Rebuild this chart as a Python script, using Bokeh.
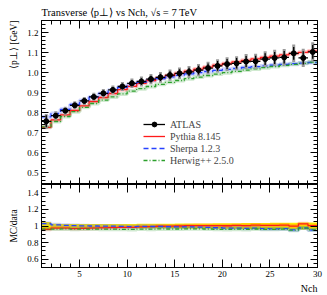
import math
from bokeh.plotting import figure
from bokeh.models import (Range1d, LinearAxis, FixedTicker, Legend,
                          LegendItem, CustomJSTickFormatter, Title)
from bokeh.layouts import column
from bokeh.embed import file_html
from bokeh.resources import INLINE

# ---------------- data ----------------
nch_edges = [1, 2, 3, 4, 5, 6, 7, 8, 9, 10, 11, 12, 13, 14, 15, 16, 17, 18, 19,
             20, 21, 22, 23, 24, 25, 26, 27, 28, 29, 30]
atlas_mean = [0.758, 0.786, 0.811, 0.838, 0.860, 0.880, 0.898, 0.915, 0.932,
              0.948, 0.957, 0.969, 0.978, 0.989, 0.998, 1.005, 1.014, 1.024,
              1.035, 1.044, 1.048, 1.057, 1.058, 1.069, 1.075, 1.078, 1.098,
              1.075, 1.105]
atlas_err_stat = [0.030, 0.013, 0.012, 0.012, 0.012, 0.012, 0.013, 0.013, 0.014,
                  0.015, 0.016, 0.017, 0.018, 0.019, 0.020, 0.021, 0.022, 0.023,
                  0.024, 0.025, 0.026, 0.027, 0.028, 0.029, 0.030, 0.031, 0.032,
                  0.033, 0.034]
atlas_err_tot = [0.037, 0.022, 0.020, 0.020, 0.020, 0.021, 0.022, 0.022, 0.023,
                 0.024, 0.025, 0.026, 0.027, 0.028, 0.029, 0.030, 0.031, 0.032,
                 0.033, 0.034, 0.035, 0.037, 0.038, 0.039, 0.041, 0.042, 0.044,
                 0.046, 0.048]
pythia_mean = [0.728, 0.765, 0.790, 0.812, 0.835, 0.857, 0.877, 0.897, 0.916,
               0.933, 0.948, 0.962, 0.975, 0.987, 0.998, 1.009, 1.019, 1.029,
               1.039, 1.047, 1.055, 1.063, 1.070, 1.077, 1.084, 1.090, 1.097,
               1.103, 1.109]
sherpa_mean = [0.780, 0.797, 0.818, 0.842, 0.862, 0.880, 0.897, 0.913, 0.928,
               0.942, 0.953, 0.963, 0.972, 0.980, 0.988, 0.995, 1.001, 1.007,
               1.013, 1.018, 1.022, 1.027, 1.031, 1.035, 1.039, 1.043, 1.046,
               1.049, 1.052]
herwig_mean = [0.730, 0.757, 0.782, 0.806, 0.828, 0.847, 0.864, 0.880, 0.895,
               0.909, 0.921, 0.932, 0.943, 0.953, 0.962, 0.971, 0.979, 0.987,
               0.994, 1.001, 1.008, 1.014, 1.020, 1.026, 1.032, 1.038, 1.043,
               1.048, 1.054]
series_labels = ["ATLAS", "Pythia 8.145", "Sherpa 1.2.3", "Herwig++ 2.5.0"]
x_major_ticks = [5, 10, 15, 20, 25, 30]
main_y_ticks = [0.5, 0.6, 0.7, 0.8, 0.9, 1.0, 1.1, 1.2]
ratio_y_ticks = [0.6, 0.8, 1.0, 1.2, 1.4]
title_text = "Transverse \u27e8p\u22a5\u27e9 vs Nch, \u221as = 7 TeV"
y_label_main = "\u27e8p\u22a5\u27e9 [GeV]"
y_label_ratio = "MC/data"
x_label = "Nch"

SERIF = "Liberation Serif"
RED, BLUE, GREEN = "#ff1a1a", "#2642ff", "#2ca02c"

lo = nch_edges[:-1]
hi = nch_edges[1:]
mid = [(a + b) / 2 for a, b in zip(lo, hi)]

x_minor = [v for v in range(1, 31) if v not in x_major_ticks]
main_y_minor = [round(0.44 + 0.02 * i, 2) for i in range(42)]
main_y_minor = [v for v in main_y_minor if all(abs(v - t) > 1e-6 for t in main_y_ticks)]
ratio_y_minor = [round(0.5 + 0.05 * i, 2) for i in range(21)]
ratio_y_minor = [v for v in ratio_y_minor if all(abs(v - t) > 1e-6 for t in ratio_y_ticks)]


def add_axis(p, side, ticks, minor, code, tick_in, minor_in, fsize="9px"):
    ax = LinearAxis(ticker=FixedTicker(ticks=ticks, minor_ticks=minor))
    ax.major_tick_in = tick_in
    ax.major_tick_out = 0
    ax.minor_tick_in = minor_in
    ax.minor_tick_out = 0
    ax.axis_line_color = "black"
    ax.major_tick_line_color = "black"
    ax.minor_tick_line_color = "black"
    if code is None:
        ax.formatter = CustomJSTickFormatter(code="return '';")
        ax.major_label_standoff = 0
        ax.major_label_text_font_size = "0px"
    else:
        ax.formatter = CustomJSTickFormatter(code=code)
        ax.major_label_text_font = SERIF
        ax.major_label_text_font_size = fsize
        ax.major_label_text_color = "black"
        ax.major_label_standoff = 3
    p.add_layout(ax, side)
    return ax


def step_y(vals):
    return list(vals) + [vals[-1]]


def side_title(p, side, text, align, standoff, size="9.5px"):
    t = Title(text=text, align=align, text_font=SERIF, text_font_size=size,
              text_font_style="normal", text_color="black", standoff=standoff)
    p.add_layout(t, side)
    return t


# ---------------- main panel (frame: x 41..317, y 20..184) ----------------
xr = Range1d(1, 30)
p1 = figure(width=327, height=184, x_range=xr, y_range=Range1d(0.442, 1.262),
            output_backend="svg", toolbar_location=None,
            x_axis_location=None, y_axis_location=None,
            min_border_left=41, min_border_right=10, min_border_top=20,
            min_border_bottom=0)
p1.grid.visible = False
p1.outline_line_color = "black"
p1.background_fill_color = "white"
p1.border_fill_color = "white"

add_axis(p1, "left", main_y_ticks, main_y_minor, "return tick.toFixed(1);", 7, 4)
add_axis(p1, "right", main_y_ticks, main_y_minor, None, 7, 4)
add_axis(p1, "above", x_major_ticks, x_minor, None, 8, 4)
add_axis(p1, "below", x_major_ticks, x_minor, None, 7, 4)

mc = [(pythia_mean, RED, "solid"), (sherpa_mean, BLUE, "5 3"),
      (herwig_mean, GREEN, "4 2 1 2")]
mc_renderers = []
for vals, col, dash in mc:
    p1.step(x=nch_edges, y=step_y(vals), mode="after", line_color=col,
            line_width=4, line_alpha=0.22)
for vals, col, dash in mc:
    r = p1.step(x=nch_edges, y=step_y(vals), mode="after", line_color=col,
                line_width=1.3, line_dash=dash)
    mc_renderers.append(r)

p1.segment(x0=mid, x1=mid, y0=[m - e for m, e in zip(atlas_mean, atlas_err_tot)],
           y1=[m + e for m, e in zip(atlas_mean, atlas_err_tot)],
           line_color="#9a9a9a", line_width=3)
p1.segment(x0=mid, x1=mid, y0=[m - e for m, e in zip(atlas_mean, atlas_err_stat)],
           y1=[m + e for m, e in zip(atlas_mean, atlas_err_stat)],
           line_color="black", line_width=1.3)
hbar = p1.segment(x0=lo, x1=hi, y0=atlas_mean, y1=atlas_mean,
                  line_color="black", line_width=1.3)
pts = p1.scatter(x=mid, y=atlas_mean, size=5, fill_color="black", line_color="black")

legend = Legend(items=[
    LegendItem(label=series_labels[0], renderers=[hbar, pts]),
    LegendItem(label=series_labels[1], renderers=[mc_renderers[0]]),
    LegendItem(label=series_labels[2], renderers=[mc_renderers[1]]),
    LegendItem(label=series_labels[3], renderers=[mc_renderers[2]]),
], location=(102, 18), background_fill_alpha=0, border_line_alpha=0,
    label_text_font=SERIF, label_text_font_size="10px", glyph_width=22,
    glyph_height=12, label_height=12, spacing=0, padding=0, margin=0,
    label_standoff=5)
p1.add_layout(legend)

side_title(p1, "above", title_text, "left", 5, size="10.5px")
side_title(p1, "left", y_label_main, "right", 12)

# ---------------- ratio panel (frame: y 184..267) ----------------
p2 = figure(width=327, height=111, x_range=xr, y_range=Range1d(0.5, 1.5),
            output_backend="svg", toolbar_location=None,
            x_axis_location=None, y_axis_location=None,
            min_border_left=41, min_border_right=10, min_border_top=0,
            min_border_bottom=28)
p2.grid.visible = False
p2.outline_line_color = "black"
p2.background_fill_color = "white"
p2.border_fill_color = "white"

ratio_code = "return Math.abs(tick - 1) < 1e-9 ? '1' : tick.toFixed(1);"
add_axis(p2, "left", ratio_y_ticks, ratio_y_minor, ratio_code, 7, 4)
add_axis(p2, "right", ratio_y_ticks, ratio_y_minor, None, 7, 4)
add_axis(p2, "above", x_major_ticks, x_minor, None, 8, 4)
add_axis(p2, "below", x_major_ticks, x_minor, "return tick.toFixed(0);", 8, 4)

band_lo = [1 - e / m for m, e in zip(atlas_mean, atlas_err_tot)]
band_hi = [1 + e / m for m, e in zip(atlas_mean, atlas_err_tot)]
p2.varea_step(x=nch_edges, y1=step_y(band_lo), y2=step_y(band_hi),
              step_mode="after", fill_color="#ffee00")

for vals, col, dash in mc:
    ratio = [v / d for v, d in zip(vals, atlas_mean)]
    p2.step(x=nch_edges, y=step_y(ratio), mode="after", line_color=col,
            line_width=4, line_alpha=0.22)
for vals, col, dash in mc:
    ratio = [v / d for v, d in zip(vals, atlas_mean)]
    p2.step(x=nch_edges, y=step_y(ratio), mode="after", line_color=col,
            line_width=1.3, line_dash=dash)

side_title(p2, "left", y_label_ratio, "center", 12)
side_title(p2, "below", x_label, "right", 2, size="10px")

layout = column(p1, p2)
open("out.html", "w").write(file_html(layout, INLINE))
